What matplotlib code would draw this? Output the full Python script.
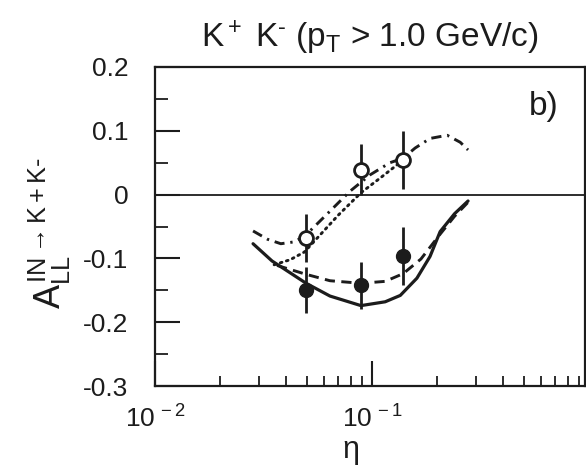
import matplotlib
matplotlib.use("Agg")
import matplotlib.pyplot as plt
from matplotlib.ticker import FixedLocator, NullFormatter

plt.rcParams['font.family'] = ['Liberation Sans', 'DejaVu Sans']
plt.rcParams['mathtext.fontset'] = 'custom'
plt.rcParams['mathtext.rm'] = 'Liberation Sans'
plt.rcParams['mathtext.it'] = 'Liberation Sans'
plt.rcParams['mathtext.bf'] = 'Liberation Sans:bold'

ink = '#1c1c1c'

# data points (eta, A_LL, error)
pts_x = [0.0497, 0.089, 0.139]
open_y = [-0.068, 0.039, 0.054]
open_err = [0.037, 0.040, 0.046]
filled_y = [-0.149, -0.142, -0.096]
filled_err = [0.036, 0.037, 0.046]

# theory curves
solid_x = [0.0283, 0.0346, 0.0497, 0.064, 0.0889, 0.115, 0.135, 0.161, 0.185, 0.206, 0.24, 0.277]
solid_y = [-0.077, -0.104, -0.139, -0.159, -0.174, -0.168, -0.158, -0.131, -0.097, -0.058, -0.030, -0.010]

dashed_x = [0.0365, 0.0497, 0.064, 0.0889, 0.115, 0.139, 0.168, 0.206, 0.24, 0.277]
dashed_y = [-0.111, -0.125, -0.135, -0.139, -0.136, -0.124, -0.101, -0.062, -0.034, -0.012]

dashdot_x = [0.0283, 0.033, 0.038, 0.044, 0.0497, 0.064, 0.079, 0.098, 0.121, 0.139, 0.158, 0.185, 0.222, 0.255, 0.277]
dashdot_y = [-0.057, -0.070, -0.077, -0.074, -0.063, -0.026, 0.005, 0.031, 0.050, 0.057, 0.073, 0.088, 0.093, 0.082, 0.070]

dotted_x = [0.0354, 0.042, 0.0488, 0.057, 0.070, 0.089, 0.111, 0.139, 0.152]
dotted_y = [-0.110, -0.102, -0.090, -0.065, -0.032, 0.003, 0.028, 0.054, 0.062]

xticks = [0.01, 0.1, 1.0]
xticklabels = [r'$10^{\,-2}$', r'$10^{\,-1}$', r'$10^{\,0}$']
yticks = [-0.3, -0.2, -0.1, 0, 0.1, 0.2]
yticklabels = ['-0.3', '-0.2', '-0.1', '0', '0.1', '0.2']

fig = plt.figure(figsize=(5.86, 4.66), dpi=100)
ax = fig.add_axes([155/586, 80/466, 430/586, 319/466])

ax.axhline(0, color=ink, lw=1.3)

ax.plot(solid_x, solid_y, color=ink, lw=2.3, solid_capstyle='round')
ax.plot(dashed_x, dashed_y, color=ink, lw=2.1, linestyle=(0, (3.5, 2.2)))
ax.plot(dashdot_x, dashdot_y, color=ink, lw=2.1, linestyle=(0, (3.5, 2.0, 0.8, 2.0)))
ax.plot(dotted_x, dotted_y, color=ink, lw=2.1, linestyle=(0, (0.6, 1.6)), dash_capstyle='round')

ax.errorbar(pts_x, filled_y, yerr=filled_err, fmt='o', color=ink, ms=10,
            elinewidth=2.0, capsize=0, zorder=5)
ax.errorbar(pts_x, open_y, yerr=open_err, fmt='o', color=ink, mfc='white',
            mec=ink, mew=2.0, ms=10, elinewidth=2.0, capsize=0, zorder=6)

ax.set_xscale('log')
ax.set_xlim(0.01, 0.958)
ax.set_ylim(-0.3, 0.2)

ax.xaxis.set_major_locator(FixedLocator(xticks))
ax.set_xticklabels(xticklabels)
minors = [m * 10.0**e for e in (-2, -1) for m in range(2, 10)]
ax.xaxis.set_minor_locator(FixedLocator(minors))
ax.xaxis.set_minor_formatter(NullFormatter())

ax.set_yticks(yticks)
ax.set_yticklabels(yticklabels)
ax.set_yticks([-0.25, -0.15, -0.05, 0.05, 0.15], minor=True)

ax.tick_params(which='major', direction='in', length=18, width=1.5, colors=ink,
               labelsize=19, top=False, right=False)
ax.tick_params(axis='y', which='major', pad=19)
ax.tick_params(axis='x', which='major', pad=14)
ax.tick_params(which='minor', direction='in', length=9, width=1.3, colors=ink,
               top=False, right=False)
ax.tick_params(axis='x', which='minor', length=7)

for s in ax.spines.values():
    s.set_color(ink)
    s.set_linewidth(1.6)

ax.set_xlabel(r'$\eta$', fontsize=22, color=ink)
ax.xaxis.set_label_coords((350 - 155) / 430, -0.16)
ax.set_ylabel(r'$A_{LL}^{IN\rightarrow K+K\text{-}}$', fontsize=26, color=ink)
ax.yaxis.set_label_coords(-0.19, 0.48)

ax.text(0.905, 0.875, 'b)', transform=ax.transAxes, fontsize=24, color=ink,
        ha='center', va='center')

fig.text(370/586, 1 - 38/466, r'K$^+$ K$^{\text{-}}$ (p$_\mathregular{T}$ > 1.0 GeV/c)',
         fontsize=24, color=ink, ha='center', va='center')

fig.savefig('out.png', dpi=100)
